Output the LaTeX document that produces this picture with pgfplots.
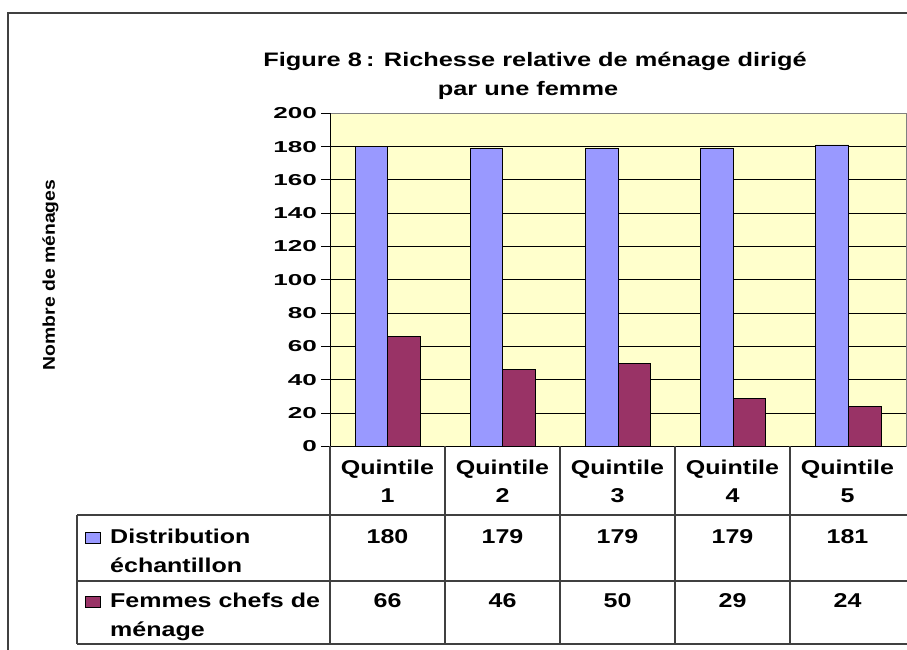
\documentclass[border=0pt]{standalone}
\usepackage{pgfplots}
\pgfplotsset{compat=1.18}
\usepackage{fontspec}
\setmainfont{Liberation Sans}
\definecolor{barblue}{HTML}{9999FF}
\definecolor{barmaroon}{HTML}{993366}
\definecolor{plotbg}{HTML}{FFFFCC}
\definecolor{framegray}{HTML}{808080}
\definecolor{linegray}{HTML}{404040}
\newcommand{\fs}[1]{\fontsize{#1}{#1}\selectfont}
\newcommand{\tb}[1]{\scalebox{1.25}[1]{#1}}
\begin{document}
\begin{tikzpicture}[x=1pt,y=1pt]
\path[use as bounding box] (0,0) rectangle (907,650);
% outer frame
\draw[linegray, line width=1.5pt] (8,0) -- (8,637) -- (907,637);
\begin{axis}[
  at={(330pt,203.7pt)}, anchor=south west,
  scale only axis, width=576pt, height=333pt,
  xmin=0.5, xmax=5.5, ymin=0, ymax=200,
  ytick={0,20,...,200}, xtick=\empty,
  ytick pos=left,
  ymajorgrids, grid style={black, line width=0.8pt},
  axis background/.style={fill=plotbg},
  axis line style={framegray, line width=1pt},
  tick align=outside, major tick length=9pt,
  ytick style={black, line width=0.8pt},
  yticklabel style={font=\bfseries\fs{15.8}, anchor=east, inner sep=0pt, xshift=-4pt},
  yticklabel={\scalebox{1.65}[1]{\pgfmathprintnumber[assume math mode=true]{\tick}}},
  ybar=0pt, bar width=0.283,
  clip=false,
]
\addplot[fill=barblue, draw=black, line width=0.8pt] coordinates {(1,180) (2,179) (3,179) (4,179) (5,181)};
\addplot[fill=barmaroon, draw=black, line width=0.8pt] coordinates {(1,66) (2,46) (3,50) (4,29) (5,24)};
\draw[black, line width=1pt] (rel axis cs:0,1) -- (rel axis cs:0,0) -- (rel axis cs:1,0);
\end{axis}
% title
\node[anchor=base, font=\bfseries\fs{19.5}, inner sep=0pt] at (535,583) {\scalebox{1.3}[1]{Figure 8\,: Richesse relative de ménage dirigé}};
\node[anchor=base, font=\bfseries\fs{19.5}, inner sep=0pt] at (528,554) {\scalebox{1.3}[1]{par une femme}};
% y label
\node[font=\bfseries\fs{17}, inner sep=0pt] at (50.5,375) {\rotatebox{90}{\scalebox{1.14}[1]{Nombre de ménages}}};
% data table grid
\draw[linegray, line width=1.2pt] (77,135) -- (907,135) (77,69) -- (907,69) (77,6) -- (907,6) (77,135) -- (77,6);
\foreach \x in {330,445,560,675,790} \draw[linegray, line width=1.2pt] (\x,203.7) -- (\x,6);
% header
\foreach \i/\x in {1/387.5,2/502.5,3/617.5,4/732.5,5/847.5} {
  \node[anchor=base, font=\bfseries\fs{20}, inner sep=0pt] at (\x,175) {\tb{Quintile}};
  \node[anchor=base, font=\bfseries\fs{20}, inner sep=0pt] at (\x,147) {\tb{\i}};
}
% values
\foreach \v/\x in {180/387.5,179/502.5,179/617.5,179/732.5,181/847.5}
  \node[anchor=base, font=\bfseries\fs{20}, inner sep=0pt] at (\x,106) {\tb{\v}};
\foreach \v/\x in {66/387.5,46/502.5,50/617.5,29/732.5,24/847.5}
  \node[anchor=base, font=\bfseries\fs{20}, inner sep=0pt] at (\x,42) {\tb{\v}};
% row labels
\draw[black, fill=barblue, line width=0.8pt] (85,107) rectangle (100,118);
\draw[black, fill=barmaroon, line width=0.8pt] (85,43) rectangle (100,54);
\node[anchor=base west, font=\bfseries\fs{20}, inner sep=0pt] at (110,106) {\tb{Distribution}};
\node[anchor=base west, font=\bfseries\fs{20}, inner sep=0pt] at (110,77) {\tb{échantillon}};
\node[anchor=base west, font=\bfseries\fs{20}, inner sep=0pt] at (110,42) {\tb{Femmes chefs de}};
\node[anchor=base west, font=\bfseries\fs{20}, inner sep=0pt] at (110,13) {\tb{ménage}};
\end{tikzpicture}
\end{document}
